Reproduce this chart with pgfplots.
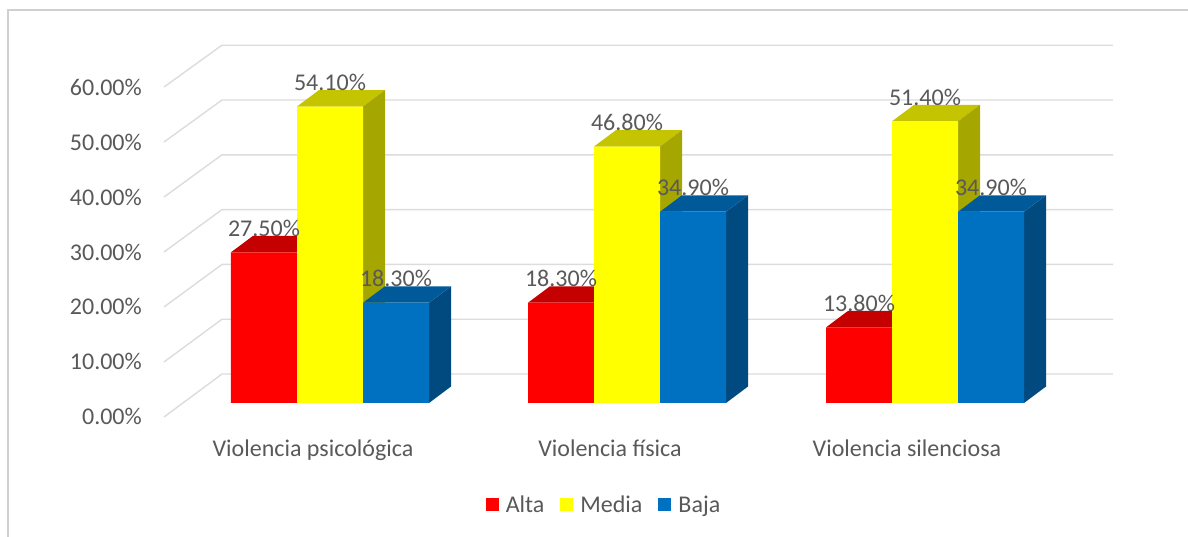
\documentclass[border=0pt]{standalone}
\usepackage{pgfplots}
\usepackage{pgfplotstable}
\usepackage{fontspec}
\setmainfont{Carlito}
\pgfplotsset{compat=1.18}
\definecolor{txt}{HTML}{595959}
\definecolor{gridc}{HTML}{DCDCDC}
\definecolor{frame}{HTML}{D0D0D0}
\definecolor{cred}{HTML}{FF0000}
\definecolor{credt}{HTML}{C40000}
\definecolor{cyel}{HTML}{FFFF00}
\definecolor{cyelt}{HTML}{C4C400}
\definecolor{cyels}{HTML}{A6A600}
\definecolor{cblu}{HTML}{0070C0}
\definecolor{cblut}{HTML}{005A9A}
\definecolor{cblus}{HTML}{004A80}
\newcommand{\fs}{\fontsize{24}{28}\selectfont}
\pgfplotstableread{
x alta media baja
264 27.5 54.1 18.3
561 18.3 46.8 34.9
859 13.8 51.4 34.9
}\data
\begin{document}
\begin{tikzpicture}
\useasboundingbox (-164pt,-120pt) rectangle (1024pt,417pt);
\draw[frame,line width=1.5pt] (-156pt,-120pt) -- (-156pt,407pt) -- (1024pt,407pt);
\begin{axis}[
  scale only axis, width=949pt, height=372pt,
  xmin=164, xmax=1113, ymin=-2.555, ymax=65.33,
  clip=false, axis line style={draw=none}, major tick length=0pt,
  scaled y ticks=false,
  ytick={0,10,20,30,40,50,60},
  yticklabel={\pgfmathprintnumber[fixed,fixed zerofill,precision=2,assume math mode=true]{\tick}\%},
  yticklabel style={font=\fs,text=txt,anchor=east,inner sep=0pt,xshift=-22pt,yshift=-13.5pt},
  xtick={313,610,907},
  xticklabels={Violencia psicológica,Violencia física,Violencia silenciosa},
  xticklabel style={font=\fs,text=txt,anchor=base,inner sep=0pt,yshift=-40pt},
  legend columns=-1,
  legend style={at={(axis cs:604,-18.6)},anchor=center,draw=none,fill=none,font=\fs,text=txt,
    /tikz/every odd column/.style={column sep=5pt},
    /tikz/every even column/.style={column sep=14pt}},
  legend image code/.code={\fill[#1] (0pt,-6.5pt) rectangle (13pt,7pt);},
]
% walls and floor lines
\addplot[gridc,line width=1.4pt,forget plot] coordinates {(164,-2.555)(222,5.29)(1113,5.29)};
\addplot[gridc,line width=1.4pt,forget plot] coordinates {(164,7.48)(222,15.29)(1113,15.29)};
\addplot[gridc,line width=1.4pt,forget plot] coordinates {(164,17.52)(222,25.29)(1113,25.29)};
\addplot[gridc,line width=1.4pt,forget plot] coordinates {(164,27.55)(222,35.29)(1113,35.29)};
\addplot[gridc,line width=1.4pt,forget plot] coordinates {(164,37.59)(222,45.29)(1113,45.29)};
\addplot[gridc,line width=1.4pt,forget plot] coordinates {(164,47.62)(222,55.29)(1113,55.29)};
\addplot[gridc,line width=1.4pt,forget plot] coordinates {(164,57.66)(222,65.29)(1113,65.29)};
% 3D faces: group 1
\addplot[fill=credt,draw=none,forget plot] coordinates {(231,27.5)(253,30.5)(319,30.5)(297,27.5)} --cycle;
\addplot[fill=cyelt,draw=none,forget plot] coordinates {(297,54.1)(319,57.1)(385,57.1)(363,54.1)} --cycle;
\addplot[fill=cyels,draw=none,forget plot] coordinates {(363,0)(385,3)(385,57.1)(363,54.1)} --cycle;
\addplot[fill=cblus,draw=none,forget plot] coordinates {(429,0)(451,3)(451,21.3)(429,18.3)} --cycle;
\addplot[fill=cblut,draw=none,forget plot] coordinates {(363,18.3)(385,21.3)(451,21.3)(429,18.3)} --cycle;
% group 2
\addplot[fill=credt,draw=none,forget plot] coordinates {(528,18.3)(550,21.3)(616,21.3)(594,18.3)} --cycle;
\addplot[fill=cyelt,draw=none,forget plot] coordinates {(594,46.8)(616,49.8)(682,49.8)(660,46.8)} --cycle;
\addplot[fill=cyels,draw=none,forget plot] coordinates {(660,0)(682,3)(682,49.8)(660,46.8)} --cycle;
\addplot[fill=cblus,draw=none,forget plot] coordinates {(726,0)(748,3)(748,37.9)(726,34.9)} --cycle;
\addplot[fill=cblut,draw=none,forget plot] coordinates {(660,34.9)(682,37.9)(748,37.9)(726,34.9)} --cycle;
% group 3
\addplot[fill=credt,draw=none,forget plot] coordinates {(826,13.8)(848,16.8)(914,16.8)(892,13.8)} --cycle;
\addplot[fill=cyelt,draw=none,forget plot] coordinates {(892,51.4)(914,54.4)(980,54.4)(958,51.4)} --cycle;
\addplot[fill=cyels,draw=none,forget plot] coordinates {(958,0)(980,3)(980,54.4)(958,51.4)} --cycle;
\addplot[fill=cblus,draw=none,forget plot] coordinates {(1024,0)(1046,3)(1046,37.9)(1024,34.9)} --cycle;
\addplot[fill=cblut,draw=none,forget plot] coordinates {(958,34.9)(980,37.9)(1046,37.9)(1024,34.9)} --cycle;
% front faces
\addplot[ybar,bar width=66pt,bar shift=0pt,fill=cred,draw=none] table[x expr=\thisrow{x},y=alta]{\data};
\addplot[ybar,bar width=66pt,bar shift=0pt,fill=cyel,draw=none] table[x expr=\thisrow{x}+66,y=media]{\data};
\addplot[ybar,bar width=66pt,bar shift=0pt,fill=cblu,draw=none] table[x expr=\thisrow{x}+132,y=baja]{\data};
\legend{Alta,Media,Baja}
% data labels
\addplot[draw=none,mark=none,forget plot,point meta=y,
  nodes near coords={\pgfmathprintnumber[fixed,fixed zerofill,precision=2,assume math mode=true]{\pgfplotspointmeta}\%},
  nodes near coords style={font=\fs,text=txt,anchor=center,inner sep=0pt,yshift=24pt}]
  table[x expr=\thisrow{x},y=alta]{\data};
\addplot[draw=none,mark=none,forget plot,point meta=y,
  nodes near coords={\pgfmathprintnumber[fixed,fixed zerofill,precision=2,assume math mode=true]{\pgfplotspointmeta}\%},
  nodes near coords style={font=\fs,text=txt,anchor=center,inner sep=0pt,yshift=24pt}]
  table[x expr=\thisrow{x}+66,y=media]{\data};
\addplot[draw=none,mark=none,forget plot,point meta=y,
  nodes near coords={\pgfmathprintnumber[fixed,fixed zerofill,precision=2,assume math mode=true]{\pgfplotspointmeta}\%},
  nodes near coords style={font=\fs,text=txt,anchor=center,inner sep=0pt,yshift=24pt}]
  table[x expr=\thisrow{x}+132,y=baja]{\data};
\end{axis}
\end{tikzpicture}
\end{document}
